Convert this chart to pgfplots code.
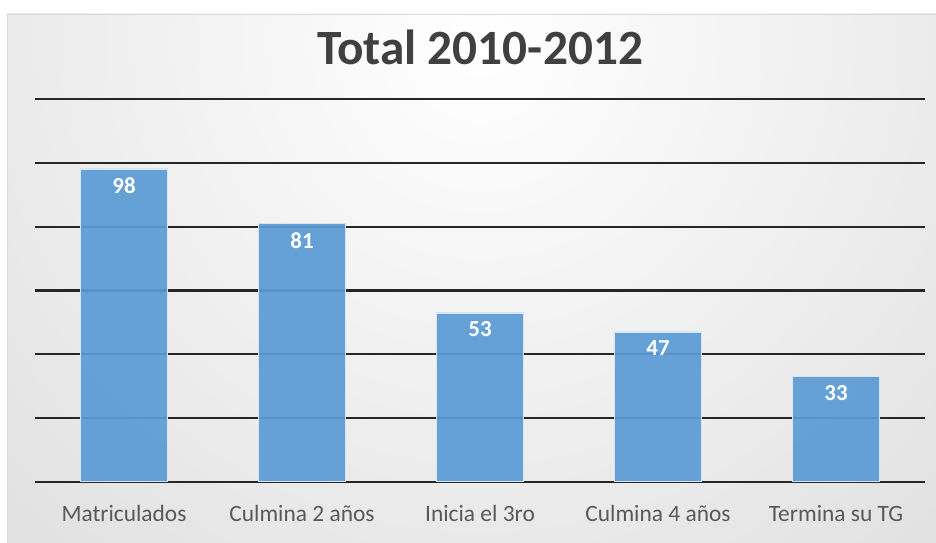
\documentclass[border=0pt]{standalone}
\usepackage{pgfplots}
\pgfplotsset{compat=1.18}
\usepackage{fontspec}
\setmainfont{Carlito}
\definecolor{barblue}{HTML}{5B9BD5}
\definecolor{baredge}{HTML}{D6E6F5}
\definecolor{labgray}{HTML}{595959}
\definecolor{titlegray}{HTML}{404040}
\definecolor{gridc}{HTML}{262626}
\begin{document}
\begin{tikzpicture}[x=1bp,y=1bp]
\fill[white] (0,0) rectangle (936,543);
\path[use as bounding box] (0,0) rectangle (936,543);
\begin{scope}
\clip (7,0) rectangle (936,529);
\shade[inner color=white, outer color=black!19] (480,500) circle (1100);
\end{scope}
\draw[black!15, line width=1bp] (7.5,0) -- (7.5,528.5) -- (936,528.5);
\node[font=\fontsize{49.5}{52}\selectfont\bfseries, text=titlegray] at (480,496) {Total 2010-2012};
\begin{axis}[
  at={(35bp,61bp)}, anchor=south west,
  scale only axis, width=890bp, height=383bp,
  xmin=-0.5, xmax=4.5, ymin=0, ymax=120,
  ytick={0,20,...,120}, yticklabels={},
  ymajorgrids, grid style={gridc, line width=2.3bp},
  axis line style={draw=none},
  major tick length=0pt,
  xtick={0,1,2,3,4},
  xticklabels={Matriculados, Culmina 2 años, Inicia el 3ro, Culmina 4 años, Termina su TG},
  xticklabel style={font=\fontsize{23.5}{26}\selectfont, text=labgray, anchor=north, inner sep=0pt, text height=17bp, text depth=5bp, yshift=-22bp},
  ybar, bar width=87bp,
  nodes near coords,
  /pgf/number format/assume math mode=true,
  every node near coord/.append style={anchor=north, inner sep=0pt, yshift=-8bp, font=\fontsize{23}{25}\selectfont\bfseries, text=white},
]
\addplot[fill=barblue, draw=baredge, line width=1.5bp, fill opacity=0.93, text opacity=1] coordinates {(0,98) (1,81) (2,53) (3,47) (4,33)};
\end{axis}
\end{tikzpicture}
\end{document}
